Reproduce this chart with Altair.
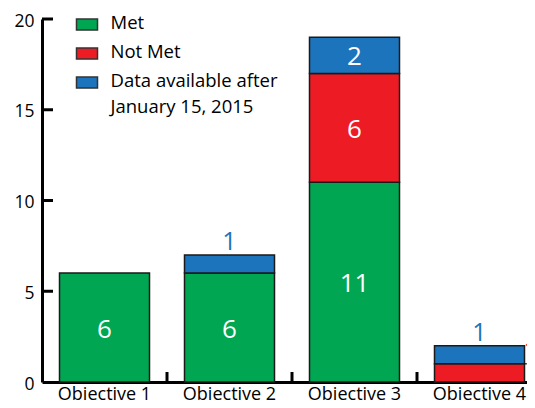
import altair as alt
import pandas as pd

categories = ["Objective 1", "Objective 2", "Objective 3", "Objective 4"]
met = [6, 6, 11, 0]
not_met = [0, 0, 6, 1]
pending = [0, 1, 2, 1]
statuses = ["Met", "Not Met", "Data available after January 15, 2015"]
colors = ["#00A651", "#ED1C24", "#1C75BC"]
y_tick_values = [0, 5, 10, 15, 20]

rows = []
for i, c in enumerate(categories):
    for k, vals in enumerate([met, not_met, pending]):
        if vals[i] > 0:
            rows.append({"cat": c, "status": statuses[k], "count": vals[i], "order": k})
df = pd.DataFrame(rows)

FONT = "Open Sans"

xscale = alt.Scale(domain=categories, range=[0, 500], paddingInner=0.28, paddingOuter=0.14)
yscale = alt.Scale(domain=[0, 20], nice=False)

base = alt.Chart(df).transform_stack(
    stack="count", groupby=["cat"], as_=["y0", "y1"],
    sort=[alt.SortField("order", order="ascending")],
).transform_calculate(mid="(datum.y0 + datum.y1) / 2")

bars = base.mark_bar(stroke="#1a1a1a", strokeWidth=1.5).encode(
    x=alt.X("cat:N", scale=xscale, sort=categories,
            axis=alt.Axis(title=None, ticks=False, domainWidth=3, domainColor="black",
                          labelFontSize=18, labelPadding=3, labelAngle=0, labelColor="black",
                          labelBaseline="top")),
    y=alt.Y("y0:Q", scale=yscale,
            axis=alt.Axis(title=None, values=y_tick_values, tickSize=0, grid=False,
                          domainWidth=3, domainColor="black", labelFontSize=17.5,
                          labelPadding=8, labelColor="black", labelOffset=2)),
    y2="y1:Q",
    color=alt.Color("status:N", scale=alt.Scale(domain=statuses, range=colors),
                    legend=alt.Legend(title=None, orient="none", legendX=33.5, legendY=-2,
                                      symbolType="M-1,-0.9H1V0.15H-1Z", symbolSize=441,
                                      symbolStrokeColor="#333333", symbolStrokeWidth=1.5,
                                      symbolOpacity=1, labelFontSize=18.5, labelLimit=400,
                                      labelOffset=12, rowPadding=8, labelColor="black",
                                      labelBaseline="alphabetic",
                                      labelExpr="datum.label == 'Data available after January 15, 2015' ? ['Data available after', 'January 15, 2015'] : datum.label")),
    order=alt.Order("order:Q"),
)

inside = base.transform_filter("datum.count >= 2").mark_text(
    color="white", fontSize=26, baseline="middle", dy=2
).encode(x=alt.X("cat:N"), y=alt.Y("mid:Q"), text="count:Q")

above = base.transform_filter("datum.count == 1 && datum.order == 2").mark_text(
    color="#1C75BC", fontSize=25, baseline="alphabetic", dy=-5
).encode(x=alt.X("cat:N"), y=alt.Y("y1:Q"), text="count:Q")

side = base.transform_filter("datum.count == 1 && datum.order == 1").mark_text(
    color="#ED1C24", fontSize=25, baseline="alphabetic", align="left", dx=-1, dy=-5
).encode(x=alt.X("cat:N", bandPosition=1), y=alt.Y("y1:Q"), text="count:Q")

leader = base.transform_filter("datum.count == 1 && datum.order == 1").mark_rule(
    color="black", strokeWidth=1
).encode(x=alt.X("cat:N", bandPosition=1), x2=alt.value(500), y=alt.Y("y1:Q"))

ytick_df = pd.DataFrame({"v": y_tick_values[1:]})
yticks = alt.Chart(ytick_df).mark_rule(color="black", strokeWidth=3).encode(
    y=alt.Y("v:Q"), x=alt.value(0), x2=alt.value(11)
)

xtick_df = pd.DataFrame({"cat": categories[1:]})
xticks = alt.Chart(xtick_df).mark_rule(color="black", strokeWidth=3, xOffset=-17.5).encode(
    x=alt.X("cat:N", bandPosition=0), y=alt.value(363), y2=alt.value(353)
)

chart = alt.layer(bars, inside, above, side, leader, yticks, xticks).properties(
    width=485, height=363,
    autosize=alt.AutoSizeParams(type="none"),
    padding={"left": 34, "top": 11, "right": 0, "bottom": 18},
).configure(font=FONT, style={"guide-label": {"lineHeight": 26}}).configure_view(stroke=None)

chart.save("out.html", embed_options={"renderer": "svg", "actions": False})
